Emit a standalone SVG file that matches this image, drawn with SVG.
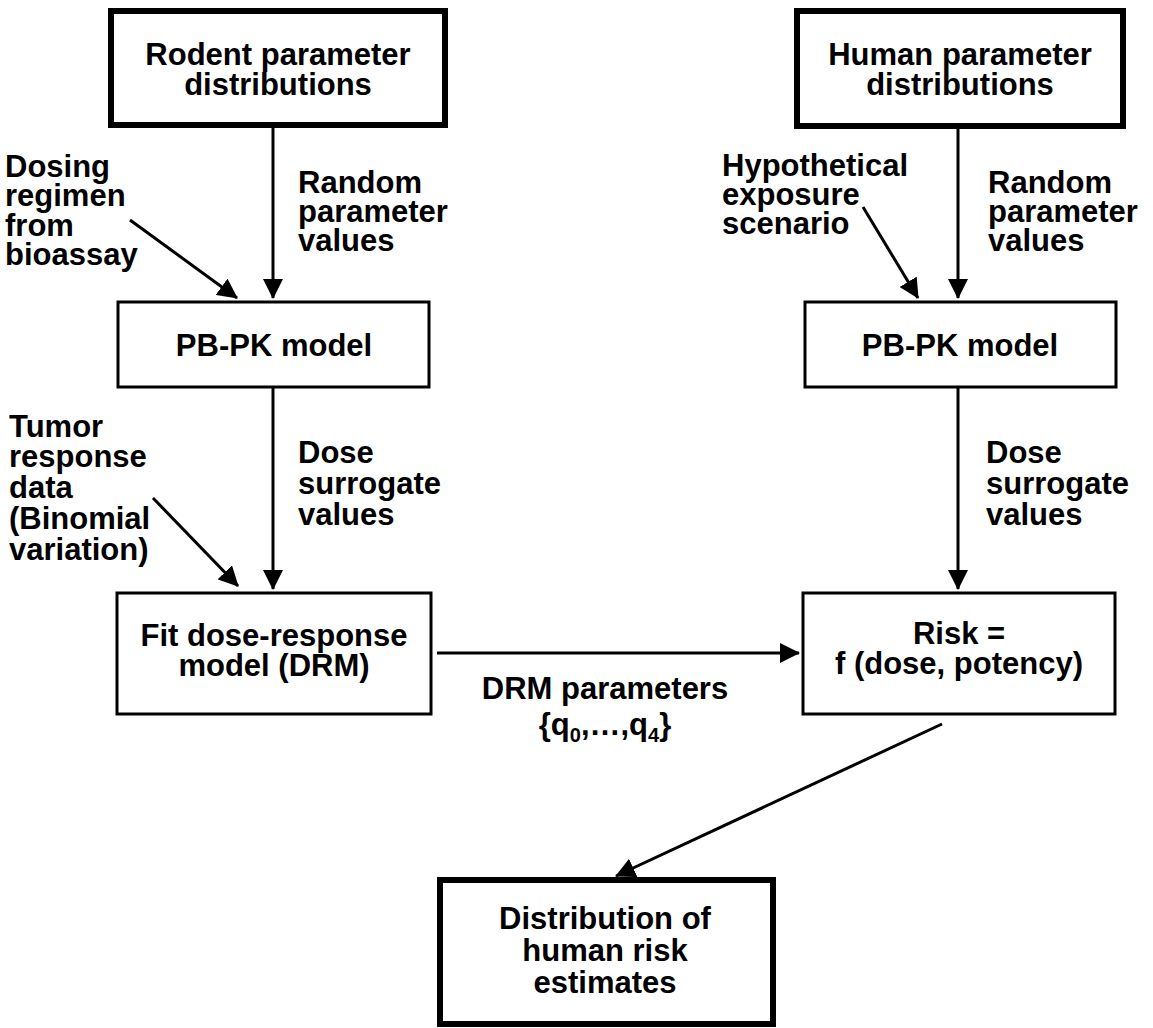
<svg xmlns="http://www.w3.org/2000/svg" width="1153" height="1028" viewBox="0 0 1153 1028">
<style>
text{font-family:"Liberation Sans",Arial,sans-serif;font-weight:bold;font-size:31px;fill:#000}
.c{text-anchor:middle}
.thick{fill:none;stroke:#000;stroke-width:6}
.thin{fill:none;stroke:#000;stroke-width:3}
.conn{stroke:#000;stroke-width:3;fill:none;marker-end:url(#ah)}
.sub{font-size:20px}
</style>
<defs>
<marker id="ah" viewBox="0 0 20 20" refX="19" refY="10" markerWidth="20" markerHeight="20" markerUnits="userSpaceOnUse" orient="auto">
<path d="M0,0 L20,10 L0,20 z" fill="#000"/>
</marker>
</defs>
<rect width="1153" height="1028" fill="#fff"/>
<g id="rodent-dist">
<rect class="thick" x="111" y="11" width="334" height="114"/>
<text class="c" x="278" y="65">Rodent parameter</text>
<text class="c" x="278" y="95">distributions</text>
</g>
<g id="human-dist">
<rect class="thick" x="797" y="11" width="326" height="115"/>
<text class="c" x="960" y="65">Human parameter</text>
<text class="c" x="960" y="95">distributions</text>
</g>
<g id="pbpk-rodent">
<rect class="thin" x="118" y="302" width="311" height="85"/>
<text class="c" x="274" y="356">PB-PK model</text>
</g>
<g id="pbpk-human">
<rect class="thin" x="805" y="302" width="311" height="85"/>
<text class="c" x="960" y="356">PB-PK model</text>
</g>
<g id="fit-drm">
<rect class="thin" x="117" y="593" width="314" height="121"/>
<text class="c" x="274" y="646">Fit dose-response</text>
<text class="c" x="274" y="676">model (DRM)</text>
</g>
<g id="risk">
<rect class="thin" x="803" y="593" width="312" height="121"/>
<text class="c" x="959" y="644">Risk =</text>
<text class="c" x="959" y="674">f (dose, potency)</text>
</g>
<g id="distribution">
<rect class="thick" x="440" y="880" width="333" height="144"/>
<text class="c" x="605" y="929">Distribution of</text>
<text class="c" x="605" y="961">human risk</text>
<text class="c" x="605" y="993">estimates</text>
</g>
<g id="labels">
<text x="5" y="177">Dosing</text>
<text x="5" y="206">regimen</text>
<text x="5" y="236">from</text>
<text x="5" y="265">bioassay</text>
<text x="298" y="193">Random</text>
<text x="298" y="222">parameter</text>
<text x="298" y="251">values</text>
<text x="722" y="176">Hypothetical</text>
<text x="722" y="205">exposure</text>
<text x="722" y="234">scenario</text>
<text x="988" y="193">Random</text>
<text x="988" y="222">parameter</text>
<text x="988" y="251">values</text>
<text x="9" y="437">Tumor</text>
<text x="9" y="467">response</text>
<text x="9" y="498">data</text>
<text x="9" y="529">(Binomial</text>
<text x="9" y="560">variation)</text>
<text x="298" y="463">Dose</text>
<text x="298" y="494">surrogate</text>
<text x="298" y="525">values</text>
<text x="986" y="463">Dose</text>
<text x="986" y="494">surrogate</text>
<text x="986" y="525">values</text>
<text class="c" x="605" y="699">DRM parameters</text>
<text class="c" x="605" y="735">{q<tspan class="sub" dy="7">0</tspan><tspan dy="-7">,…,q</tspan><tspan class="sub" dy="7">4</tspan><tspan dy="-7">}</tspan></text>
</g>
<g id="connectors">
<line class="conn" x1="273" y1="128" x2="273" y2="298"/>
<line class="conn" x1="130" y1="220" x2="237" y2="298"/>
<line class="conn" x1="958" y1="129" x2="958" y2="298"/>
<line class="conn" x1="863" y1="207" x2="918" y2="298"/>
<line class="conn" x1="273" y1="387" x2="273" y2="589"/>
<line class="conn" x1="153" y1="498" x2="238" y2="586"/>
<line class="conn" x1="958" y1="387" x2="958" y2="589"/>
<line class="conn" x1="437" y1="653" x2="799" y2="653"/>
<line class="conn" x1="942" y1="724" x2="616" y2="876"/>
</g>
</svg>
